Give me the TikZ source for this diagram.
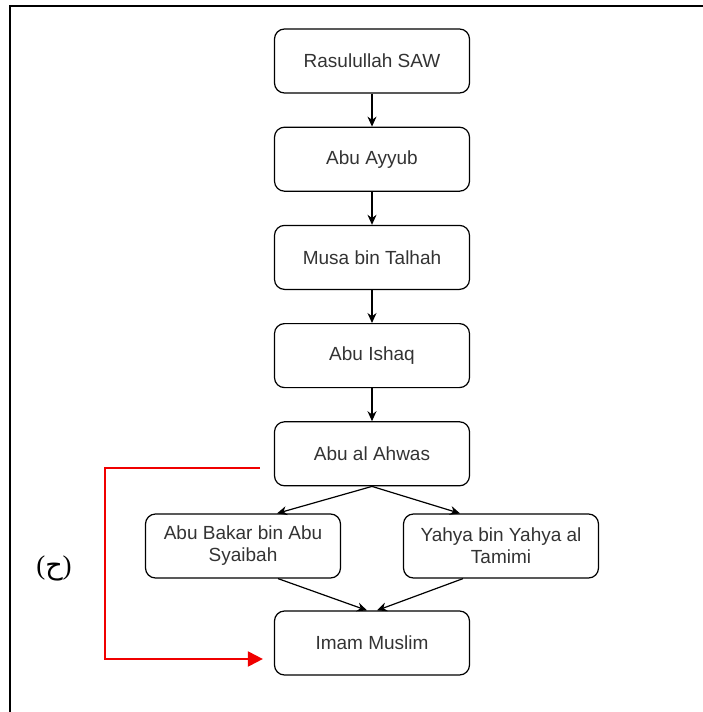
\documentclass[tikz,border=0pt]{standalone}
\usepackage{fontspec}
\setmainfont{Liberation Sans}
\newfontfamily\seriffont{Liberation Serif}
\newfontfamily\arabicfont[Script=Arabic]{DejaVu Sans}
\usepackage{tikz}
\usetikzlibrary{arrows.meta,positioning,calc}
\definecolor{txtgrey}{RGB}{51,51,51}
\definecolor{redline}{RGB}{240,0,0}
\tikzset{
  box/.style={draw,line width=1.2pt,rounded corners=10pt,align=center,text=txtgrey,font=\fontsize{19}{22}\selectfont,minimum width=195pt,minimum height=64pt,inner sep=2pt},
  arr/.style={-{Stealth[length=10pt,width=9pt]},line width=1.2pt},
  redarr/.style={-{Triangle[length=15pt,width=15pt]},draw=redline,line width=2pt}
}

\begin{document}
\begin{tikzpicture}[x=1pt,y=1pt,node distance=33pt,
 lab/.style={font=\seriffont\fontsize{27}{29}\selectfont,inner sep=0pt}]
\useasboundingbox (0,0) rectangle (703,-712);
\draw[line width=2pt] (703,-6) -- (10,-6) -- (10,-712);
% main chain
\node[box] (rasul) at (372,-61) {Rasulullah SAW};
\node[box,below=of rasul] (ayyub) {Abu Ayyub};
\node[box,below=of ayyub] (musa) {Musa bin Talhah};
\node[box,below=of musa] (ishaq) {Abu Ishaq};
\node[box,below=of ishaq] (ahwas) {Abu al Ahwas};
\node[box] (abubakar) at (243,-546) {Abu Bakar bin Abu\\Syaibah};
\node[box] (yahya) at (501,-546) {Yahya bin Yahya al\\Tamimi};
\node[box] (imam) at (372,-643) {Imam Muslim};
\draw[arr] (rasul) -- (ayyub);
\draw[arr] (ayyub) -- (musa);
\draw[arr] (musa) -- (ishaq);
\draw[arr] (ishaq) -- (ahwas);
\draw[arr] (ahwas.south) -- ([xshift=34pt]abubakar.north);
\draw[arr] (ahwas.south) -- ([xshift=-41pt]yahya.north);
\draw[arr] ([xshift=35pt]abubakar.south) -- ([xshift=-5pt]imam.north);
\draw[arr] ([xshift=-38pt]yahya.south) -- ([xshift=5pt]imam.north);
% red path
\coordinate (redstart) at ($(ahwas.west)+(-14,-14)$);
\coordinate (redend) at ($(imam.west)+(-11,-16)$);
\draw[redarr] (redstart) -- ++(-155,0) |- (redend);
\node[lab] (hah) at (54,-568) {({\arabicfont ح})};
\end{tikzpicture}
\end{document}
